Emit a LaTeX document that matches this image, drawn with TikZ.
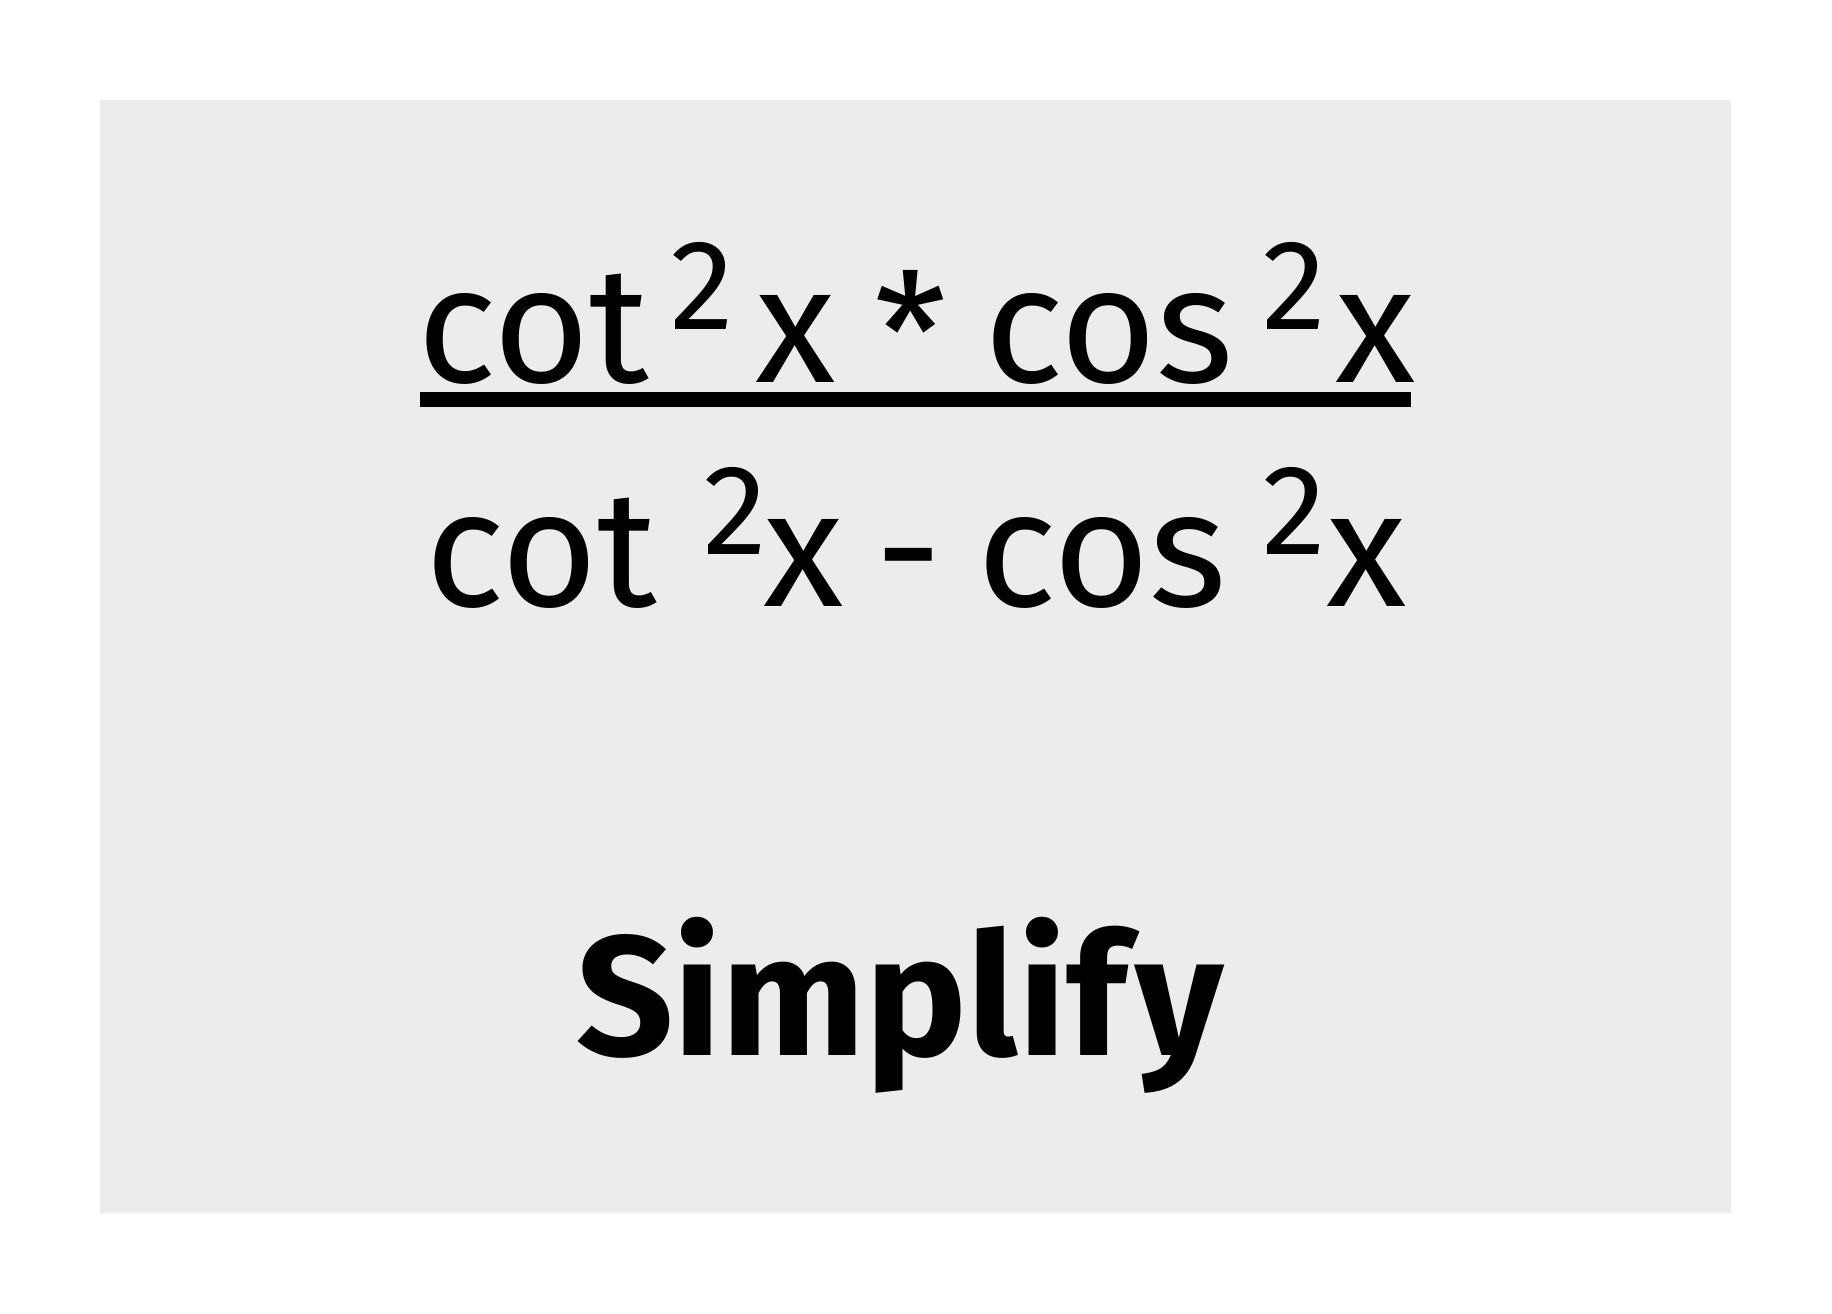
\documentclass[tikz,border=0pt]{standalone}
\usepackage{fontspec}
\setmainfont{Fira Sans}
\usepackage{xcolor}
\usepackage{tikz}
\usetikzlibrary{positioning,calc}

\definecolor{cardgray}{HTML}{ECECEC}

\begin{document}
\begin{tikzpicture}[
    term/.style={anchor=base west, inner sep=0pt, font=\fontsize{47}{50}\selectfont},
    power/.style={anchor=base west, inner sep=0pt, font=\fontsize{36.5}{40}\selectfont},
    title/.style={anchor=base, inner sep=0pt, font=\fontsize{48.5}{52}\selectfont\bfseries}
]
    \useasboundingbox (0,0) rectangle (18.32,13.14);
    \fill[cardgray] (1.00,1.01) rectangle (17.31,12.14); % Card

    % Numerator
    \node[term] (ncot) at (4.17,9.31) {cot};
    \node[power] (nsqa) at (6.70,9.84) {2};
    \node[term] (nxa) at (7.55,9.31) {x};
    \node[term] (nstar) at (8.74,9.21) {*};
    \node[term] (ncos) at (9.84,9.31) {cos};
    \node[power] (nsqb) at (12.62,9.84) {2};
    \node[term] (nxb) at (13.35,9.31) {x};

    % Fraction bar
    \coordinate (barl) at (4.20,9.145);
    \coordinate (barr) at (14.11,9.145);
    \draw[line width=4.3pt] (barl) -- (barr);

    % Denominator
    \node[term] (dcot) at (4.25,7.07) {cot};
    \node[power] (dsqa) at (7.03,7.59) {2};
    \node[term] (dxa) at (7.63,7.07) {x};
    \node[term] (dminus) at (8.75,7.07) {-};
    \node[term] (dcos) at (9.77,7.07) {cos};
    \node[power] (dsqb) at (12.62,7.59) {2};
    \node[term] (dxb) at (13.26,7.07) {x};

    \node[title] (simplify) at (9.00,2.58) {Simplif\kern2.5pt y};
\end{tikzpicture}
\end{document}
